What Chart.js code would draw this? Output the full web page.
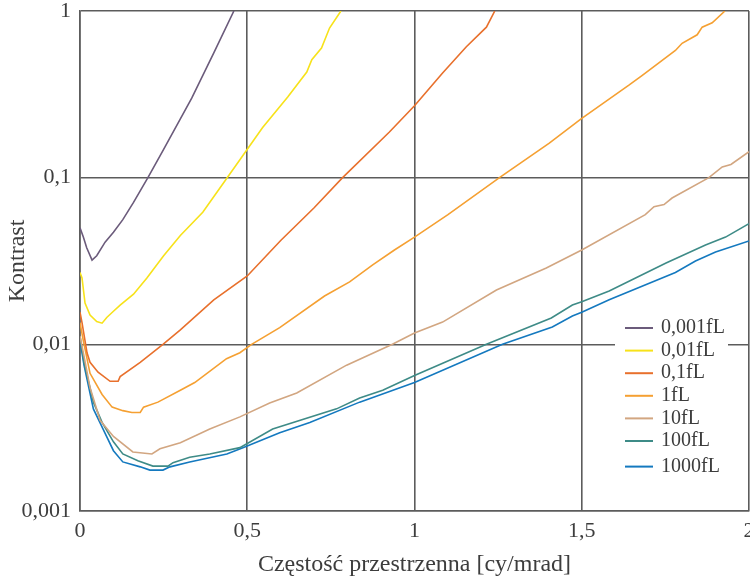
<!DOCTYPE html>
<html>
<head>
<meta charset="utf-8">
<script src="https://cdn.jsdelivr.net/npm/chart.js@4.4.1/dist/chart.umd.min.js"></script>
<style>
html,body{margin:0;padding:0;background:#fff;}
#wrap{width:750px;height:580px;position:relative;}
</style>
</head>
<body>
<div id="wrap"><canvas id="c" width="750" height="580"></canvas></div>
<script>
// ---- data ----
const seriesLabels = ['0,001fL', '0,01fL', '0,1fL', '1fL', '10fL', '100fL', '1000fL'];
const seriesColors = ['#6b5b7b', '#f7e21a', '#e8702c', '#f5a032', '#d2a681', '#3e8b87', '#1479bf'];

const xTicks = [0, 0.5, 1, 1.5, 2];
const yTicks = [0.001, 0.01, 0.1, 1];

const x0001 = [0, 0.01, 0.02, 0.036, 0.05, 0.075, 0.1, 0.128, 0.16, 0.203, 0.25, 0.3, 0.334, 0.4, 0.46];
const y0001 = [0.05, 0.044, 0.038, 0.032, 0.034, 0.041, 0.047, 0.056, 0.071, 0.1, 0.148, 0.225, 0.3, 0.56, 1.0];

const x001 = [0, 0.006, 0.015, 0.03, 0.05, 0.066, 0.08, 0.1, 0.12, 0.16, 0.2, 0.25, 0.3, 0.367, 0.44, 0.478, 0.546, 0.621, 0.678, 0.693, 0.722, 0.746, 0.78];
const y001 = [0.027, 0.025, 0.0177, 0.015, 0.0137, 0.0134, 0.0145, 0.0158, 0.0172, 0.02, 0.025, 0.034, 0.045, 0.062, 0.1, 0.128, 0.2, 0.305, 0.43, 0.51, 0.6, 0.79, 1.0];

const x01 = [0, 0.006, 0.021, 0.03, 0.054, 0.09, 0.114, 0.12, 0.18, 0.248, 0.3, 0.4, 0.5, 0.6, 0.7, 0.785, 0.925, 1.0, 1.084, 1.155, 1.215, 1.24];
const y01 = [0.0156, 0.0135, 0.0089, 0.0078, 0.0068, 0.006, 0.006, 0.0064, 0.0078, 0.01, 0.0122, 0.0185, 0.0257, 0.042, 0.066, 0.1, 0.188, 0.27, 0.425, 0.61, 0.8, 1.0];

const x1 = [0, 0.01, 0.03, 0.066, 0.096, 0.128, 0.155, 0.18, 0.19, 0.233, 0.3, 0.343, 0.438, 0.478, 0.513, 0.597, 0.731, 0.806, 0.875, 0.94, 1.0, 1.1, 1.254, 1.403, 1.498, 1.642, 1.68, 1.78, 1.8, 1.845, 1.86, 1.89, 1.928];
const y1 = [0.0135, 0.0105, 0.0067, 0.005, 0.0042, 0.004, 0.0039, 0.0039, 0.0042, 0.0045, 0.0053, 0.0059, 0.0082, 0.0089, 0.01, 0.0126, 0.0195, 0.0237, 0.03, 0.0368, 0.044, 0.06, 0.1, 0.161, 0.225, 0.36, 0.41, 0.58, 0.64, 0.72, 0.8, 0.85, 1.0];

const x10 = [0, 0.012, 0.03, 0.06, 0.1, 0.158, 0.215, 0.239, 0.3, 0.388, 0.478, 0.567, 0.648, 0.797, 0.934, 1.0, 1.084, 1.245, 1.394, 1.5, 1.69, 1.716, 1.746, 1.77, 1.88, 1.92, 1.946, 2.0];
const y10 = [0.0112, 0.0085, 0.0055, 0.0035, 0.0028, 0.00226, 0.0022, 0.00236, 0.00257, 0.0031, 0.00367, 0.00445, 0.0051, 0.0075, 0.01, 0.0117, 0.0136, 0.0212, 0.0287, 0.0368, 0.06, 0.067, 0.069, 0.0755, 0.1, 0.116, 0.12, 0.143];

const x100 = [0, 0.012, 0.04, 0.066, 0.1, 0.128, 0.173, 0.218, 0.263, 0.278, 0.328, 0.388, 0.478, 0.576, 0.767, 0.836, 0.905, 1.0, 1.215, 1.409, 1.472, 1.5, 1.582, 1.752, 1.87, 1.93, 2.0];
const y100 = [0.0112, 0.0078, 0.0045, 0.0034, 0.0026, 0.0022, 0.002, 0.00186, 0.00186, 0.00195, 0.0021, 0.0022, 0.0024, 0.0031, 0.0041, 0.00476, 0.0053, 0.0065, 0.01, 0.0144, 0.0172, 0.018, 0.0209, 0.0308, 0.0395, 0.044, 0.053];

const x1000 = [0, 0.012, 0.04, 0.069, 0.1, 0.128, 0.18, 0.209, 0.248, 0.269, 0.328, 0.439, 0.487, 0.597, 0.687, 0.836, 1.0, 1.263, 1.412, 1.472, 1.5, 1.582, 1.78, 1.84, 1.9, 2.0];
const y1000 = [0.0105, 0.0075, 0.0041, 0.0031, 0.0023, 0.00197, 0.00184, 0.00176, 0.00176, 0.00184, 0.00197, 0.0022, 0.0024, 0.00295, 0.0034, 0.0045, 0.0059, 0.01, 0.0127, 0.0148, 0.0156, 0.0185, 0.027, 0.0316, 0.0358, 0.0417];

const xTitle = 'Częstość przestrzenna [cy/mrad]';
const yTitle = 'Kontrast';

// ---- build ----
const allX = [x0001, x001, x01, x1, x10, x100, x1000];
const allY = [y0001, y001, y01, y1, y10, y100, y1000];
const fmt = v => String(v).replace('.', ',');
const FONT = "'Liberation Serif', 'DejaVu Serif', serif";
const TXT = '#3d3d3d';
const GRID = '#5c5c5c';

const datasets = seriesLabels.map((lab, i) => ({
  label: lab,
  data: allX[i].map((x, j) => ({x: x, y: allY[i][j]})),
  borderColor: seriesColors[i],
  backgroundColor: seriesColors[i],
  borderWidth: 1.6,
  pointRadius: 0,
  tension: 0,
  fill: false
}));

const legendPlugin = {
  id: 'insideLegend',
  afterDraw(chart) {
    const ctx = chart.ctx;
    const ca = chart.chartArea;
    const boxL = ca.right - 134, boxR = ca.right - 21;
    const top = ca.top + 317;
    ctx.save();
    ctx.fillStyle = '#ffffff';
    ctx.fillRect(boxL, top - 10, boxR - boxL, 165);
    ctx.font = '20px ' + FONT;
    ctx.textBaseline = 'middle';
    ctx.textAlign = 'left';
    chart.data.datasets.forEach((ds, i) => {
      const y = top + i * 22.6 + (i === 6 ? 3 : 0);
      ctx.strokeStyle = ds.borderColor;
      ctx.lineWidth = 2;
      ctx.beginPath();
      ctx.moveTo(boxL + 10, y);
      ctx.lineTo(boxL + 38, y);
      ctx.stroke();
      ctx.fillStyle = TXT;
      ctx.fillText(ds.label, boxL + 46, y);
    });
    ctx.restore();
  }
};

function zeroPad(s) { s.paddingLeft = 0; s.paddingRight = 0; s.paddingTop = 0; s.paddingBottom = 0; }

new Chart(document.getElementById('c'), {
  type: 'line',
  data: {datasets: datasets},
  plugins: [legendPlugin],
  options: {
    responsive: false,
    animation: false,
    events: [],
    layout: {autoPadding: false, padding: {top: 11, right: 1, left: 0, bottom: 0}},
    plugins: {legend: {display: false}, tooltip: {enabled: false}},
    scales: {
      x: {
        type: 'linear',
        min: 0, max: 2,
        afterFit: s => { s.height = 69; zeroPad(s); },
        afterBuildTicks: s => { s.ticks = xTicks.map(v => ({value: v})); },
        ticks: {
          callback: v => fmt(v),
          font: {family: FONT, size: 22},
          color: TXT,
          padding: 7,
          maxRotation: 0,
          autoSkip: false
        },
        grid: {color: GRID, lineWidth: 1.6, drawTicks: false},
        border: {color: GRID, width: 1.6},
        title: {
          display: true,
          text: xTitle,
          font: {family: FONT, size: 24},
          color: TXT,
          padding: {top: 0, bottom: 1}
        }
      },
      y: {
        type: 'logarithmic',
        min: 0.001, max: 1,
        afterFit: s => { s.width = 80; zeroPad(s); },
        afterBuildTicks: s => { s.ticks = yTicks.map(v => ({value: v})); },
        ticks: {
          callback: v => fmt(v),
          font: {family: FONT, size: 22},
          color: TXT,
          padding: 9,
          autoSkip: false
        },
        grid: {color: GRID, lineWidth: 1.6, drawTicks: false},
        border: {color: GRID, width: 1.6},
        title: {
          display: true,
          text: yTitle,
          font: {family: FONT, size: 24},
          color: TXT,
          padding: {top: 3, bottom: 0}
        }
      }
    }
  }
});
</script>
</body>
</html>
